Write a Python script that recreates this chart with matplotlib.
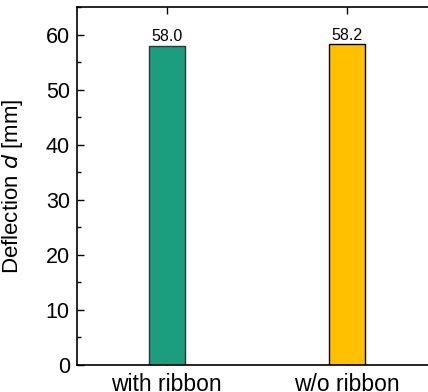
import matplotlib
matplotlib.use("Agg")
import matplotlib.pyplot as plt
from matplotlib.ticker import MultipleLocator

categories = ["with ribbon", "w/o ribbon"]
values = [58.0, 58.2]
colors = ["#1b9e7e", "#ffc000"]
edgecolors = ["#333333", "#000000"]

plt.rcParams['font.family'] = ['Liberation Sans', 'DejaVu Sans']

fig = plt.figure(figsize=(4.28, 3.92), dpi=100)
ax = fig.add_axes([76.7/428, 27/392, 360/428, 358/392])

x = list(range(len(categories)))
bars = ax.bar(x, values, width=0.2, color=colors, edgecolor=edgecolors, linewidth=1.0, zorder=2)
for xi, v in zip(x, values):
    ax.text(xi, v + 0.3, f"{v:.1f}", ha="center", va="bottom", fontsize=11.5)

ax.set_xlim(-0.5, 1.5)
ax.set_ylim(0, 65)
ax.set_xticks(x)
ax.set_xticklabels(categories, fontsize=16.5)
ax.yaxis.set_major_locator(MultipleLocator(10))
ax.yaxis.set_minor_locator(MultipleLocator(5))
ax.tick_params(axis='y', which='major', direction='in', length=5, width=1.0, labelsize=15.5, pad=5)
ax.tick_params(axis='y', which='minor', direction='in', length=3, width=1.0)
ax.tick_params(axis='x', which='major', direction='in', length=5, width=1.0, top=True, pad=5.5)
ax.set_ylabel(r"Deflection $\it{d}$ [mm]", fontsize=16)
ax.yaxis.set_label_coords(-0.144, 0.5)
for s in ax.spines.values():
    s.set_linewidth(1.2)

fig.savefig("out.png", dpi=100)
